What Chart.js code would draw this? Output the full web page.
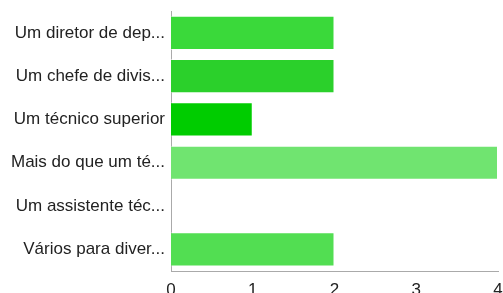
<!DOCTYPE html>
<html>
<head>
<meta charset="utf-8">
<script src="https://cdn.jsdelivr.net/npm/chart.js@4"></script>
<style>
  html, body { margin: 0; padding: 0; background: #fff; }
  #wrap { width: 503px; height: 293px; }
</style>
</head>
<body>
<div id="wrap"><canvas id="chart"></canvas></div>
<script>
const categories = [
    'Um diretor de dep...',
    'Um chefe de divis...',
    'Um técnico superior',
    'Mais do que um té...',
    'Um assistente téc...',
    'Vários para diver...'
];
const values = [2, 2, 1, 4, 0, 2];
const barColors = ['#3ad93a', '#2bd02b', '#00cc00', '#70e470', '#60e060', '#52de52'];
const xTicks = [0, 1, 2, 3, 4];

new Chart(document.getElementById('chart'), {
    type: 'bar',
    data: {
        labels: categories,
        datasets: [{
            data: values,
            backgroundColor: barColors,
            borderColor: 'rgba(255,255,255,0.5)',
            borderWidth: 1,
            categoryPercentage: 0.79,
            barPercentage: 1.0
        }]
    },
    options: {
        indexAxis: 'y',
        responsive: true,
        maintainAspectRatio: false,
        animation: false,
        layout: {padding: {top: 10, right: 0, left: 0, bottom: 0}},
        plugins: {legend: {display: false}, tooltip: {enabled: false}},
        scales: {
            x: {
                min: 0,
                max: 4,
                afterBuildTicks: (scale) => {
                    scale.ticks = xTicks.map(v => ({value: v}));
                },
                afterFit: (scale) => {
                    scale.height = 22;
                    scale.paddingLeft = 0;
                    scale.paddingRight = 5;
                },
                grid: {display: false, drawTicks: true, tickLength: 5, color: '#aaa'},
                border: {display: true, color: '#aaa'},
                ticks: {
                    color: '#222',
                    font: {family: 'Liberation Sans', size: 17},
                    padding: 4,
                    maxRotation: 0
                }
            },
            y: {
                afterFit: (scale) => { scale.width = 171; },
                grid: {display: false, drawTicks: true, tickLength: 5, color: '#aaa'},
                border: {display: true, color: '#aaa'},
                ticks: {
                    color: '#222',
                    font: {family: 'Liberation Sans', size: 17},
                    padding: 1
                }
            }
        }
    }
});
</script>
</body>
</html>
